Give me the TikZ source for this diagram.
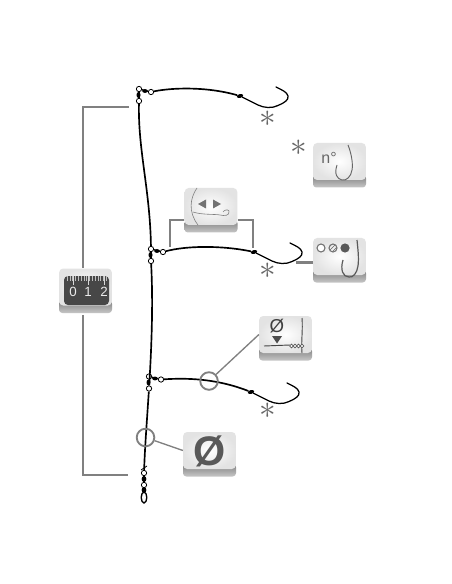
\documentclass[tikz,border=0pt]{standalone}
\usepackage{fontspec}
\setmainfont{Liberation Sans}
\usetikzlibrary{calc,patterns,shapes.geometric}
\definecolor{lead}{gray}{0.5}
\definecolor{inkk}{gray}{0.27}
\tikzset{
  x=0.75pt,y=-0.75pt,
  keynode/.style={minimum width=39.5pt,minimum height=27.75pt,inner sep=0pt,rounded corners=3pt,inner color=white,outer color=black!11},
  leadline/.style={draw=lead,line width=1.4pt},
  ring/.style={circle,draw=black!50,line width=1.4pt,minimum size=13.2pt,inner sep=0pt},
  eye/.style={circle,draw=black,fill=white,line width=0.6pt,minimum size=4pt,inner sep=0pt},
  wire/.style={draw=black,line width=1.25pt},
  thinwire/.style={draw=black,line width=0.95pt},
  star/.style={text=black!60,font=\fontsize{24}{24}\selectfont,inner sep=0pt},
  icon/.style={draw=inkk,line width=0.7pt},
  iconthin/.style={draw=black!50,line width=0.45pt},
}
\newcommand{\keyicon}[3]{%
  \path[top color=black!50,bottom color=black!22,rounded corners=2.5pt]
    (#2-26.5,#3+10) rectangle (#2+26.5,#3+22.5);
  \node[keynode,anchor=center] (#1) at (#2,#3-3.5) {};
}
\newcommand{\jointset}[3]{%
  \node[eye] (#1t) at (#2,#3) {};
  \node[eye] (#1b) at (#2,#3+12) {};
  \node[eye] (#1r) at (#2+12,#3+3) {};
  \fill (#2+6,#3+2) ellipse (2.8 and 1.9);
  \fill (#2-0.5,#3+6) ellipse (2 and 3);
  \draw[thinwire] (#1t) -- (#1b);
  \draw[thinwire] (#1t) -- (#1r);
}
\newcommand{\hookend}[3]{%
  \node[fill=black,ellipse,inner sep=0pt,minimum width=5pt,minimum height=2.8pt,rotate=15] (#1) at (#2,#3) {};
  \draw[thinwire,line cap=round] (#1) -- (#2+18,#3+9)
    .. controls (#2+24,#3+12) and (#2+32,#3+12.5) .. (#2+38,#3+9.5)
    .. controls (#2+44,#3+7) and (#2+49,#3+4) .. (#2+48,#3+0)
    .. controls (#2+47,#3-4) and (#2+42,#3-6) .. (#2+36,#3-9);
}
\begin{document}
\begin{tikzpicture}
\useasboundingbox (0,0) rectangle (452,584);
\fill[white] (0,0) rectangle (452,584);

% keys
\keyicon{knum}{339.5}{165}
\keyicon{karrow}{211}{210}
\keyicon{kbead}{339.5}{260}
\keyicon{kruler}{85.5}{290.5}
\keyicon{kdia}{285.5}{338}
\keyicon{kbig}{209.5}{454}

% lead lines
\coordinate (tt) at (129,107);
\coordinate (tl) at (83,107);
\coordinate (bl) at (83,475);
\coordinate (bt) at (128,475);
\draw[leadline] (tt) -- (tl) -- (kruler.north -| tl);
\draw[leadline] ($(kruler.south -| tl)+(0,9)$) -- (bl) -- (bt);
\coordinate (al) at (170,247);
\coordinate (ar) at (253,248);
\draw[leadline,line width=1.1pt] (al) -- (al |- 0,220) -- (karrow.west |- 0,220);
\draw[leadline,line width=1.1pt] (ar) -- (ar |- 0,220) -- (karrow.east |- 0,220);
\coordinate (bd) at (296,262.5);
\draw[leadline,line width=1.6pt] (bd) -- (bd -| kbead.west);

% joints
\jointset{ja}{139}{89}
\jointset{jb}{151}{249}
\jointset{jc}{149}{376.5}

% backbone
\node[eye] (sa) at (144,473) {};
\node[eye] (sb) at (144,485) {};
\draw[wire] (jab) .. controls (138,150) and (150,190) .. (jbt);
\draw[wire] (jbb) .. controls (153,300) and (152,340) .. (jcb);
\draw[wire] (jcb) .. controls (147,420) and (145,445) .. (sa);
% swivel
\draw[thinwire] (sa) -- (sb);
\fill (144,479) ellipse (2.4 and 3);
\fill (144,490) ellipse (2.4 and 3);
\draw[black,line width=1pt] (144,497.5) ellipse (2.8 and 5.5);
\draw[black,line width=0.6pt] (141,470) -- (147,466);

% snoods
\hookend{ha}{240}{96}
\hookend{hb}{254}{252}
\hookend{hc}{251}{392}
\draw[wire] (jar) .. controls (170,88) and (205,86) .. (ha);
\draw[wire] (jbr) .. controls (185,246) and (220,245) .. (hb);
\draw[wire] (jcr) .. controls (185,378) and (215,378) .. (hc);

% rings
\node[ring] (ra) at (209,381) {};
\node[ring] (rb) at (145.5,437.5) {};
\draw[draw=black!50,line width=1pt] (ra) -- (kdia.west);
\draw[draw=black!50,line width=1pt] (rb) -- (kbig.west);

% stars
\node[star] (s1) at (268,119) {$\ast$};
\node[star] (s2) at (299,148) {$\ast$};
\node[star] (s3) at (268,271) {$\ast$};
\node[star] (s4) at (268,411) {$\ast$};

% n° key
\node[text=black!60,font=\fontsize{12}{12}\selectfont,inner sep=0pt] (tn) at (329,158) {n°};
\draw[icon,draw=black!60] (348,145) .. controls (352,155) and (353,165) .. (352,170)
  .. controls (351,177) and (346,181) .. (342,180)
  .. controls (337,179) and (334,174) .. (337,165);

% arrows key
\draw[iconthin] (197,188) .. controls (190,198) and (188,212) .. (198,225);
\draw[iconthin] (193,212) .. controls (202,215) and (215,214) .. (220,215)
  .. controls (224,216) and (230,216) .. (229,211) .. controls (228,209) and (224,210) .. (223,212);
\fill[black!55] (198,204) -- (206,199.5) -- (206,208.5) -- cycle;
\fill[black!55] (221,204) -- (213,199.5) -- (213,208.5) -- cycle;

% beads key
\draw[draw=black!55,fill=white,line width=0.8pt] (321,248) circle (4);
\draw[draw=black!55,pattern=north east lines,pattern color=black!60,line width=0.8pt] (333,248) circle (4);
\fill[black!65] (345,248) circle (4.6);
\draw[icon,draw=black!65,line width=.9pt] (357,240) .. controls (358,250) and (359,258) .. (358,266)
  .. controls (357,273) and (353,278) .. (349,277)
  .. controls (343,277) and (340,270) .. (343,260);

% ruler key
\fill[black!72,rounded corners=3pt] (64,276) rectangle (109,305);
\foreach \k in {0,...,14}{\draw[black!25,line width=0.35pt] (67+\k*2.8,276) -- (67+\k*2.8,280.5);}
\foreach \k in {73,88,104}{\draw[black!15,line width=0.5pt] (\k,276) -- (\k,285);}
\node[text=black!8,font=\fontsize{10}{10}\selectfont,inner sep=0pt] (n0) at (73,292) {0};
\node[text=black!8,font=\fontsize{10}{10}\selectfont,inner sep=0pt] (n1) at (88,292) {1};
\node[text=black!8,font=\fontsize{10}{10}\selectfont,inner sep=0pt] (n2) at (104,292) {2};

% small diameter key
\node[text=black!75,font=\fontsize{14}{14}\selectfont,inner sep=0pt] (d1) at (277,326) {Ø};
\fill[black!70] (272,336) -- (282,336) -- (277,343.5) -- cycle;
\draw[icon] (302,318) .. controls (303,330) and (301,342) .. (302,353);
\draw[icon] (264,346) -- (290,345);
\foreach \k in {291.5,295,298.5,302}{\draw[draw=black!65,fill=white,line width=0.5pt] (\k,346) circle (1.8);}

% big diameter key
\node[text=black!65,font=\bfseries\fontsize{31}{31}\selectfont,inner sep=0pt] (d2) at (209.5,451) {Ø};
\end{tikzpicture}
\end{document}
